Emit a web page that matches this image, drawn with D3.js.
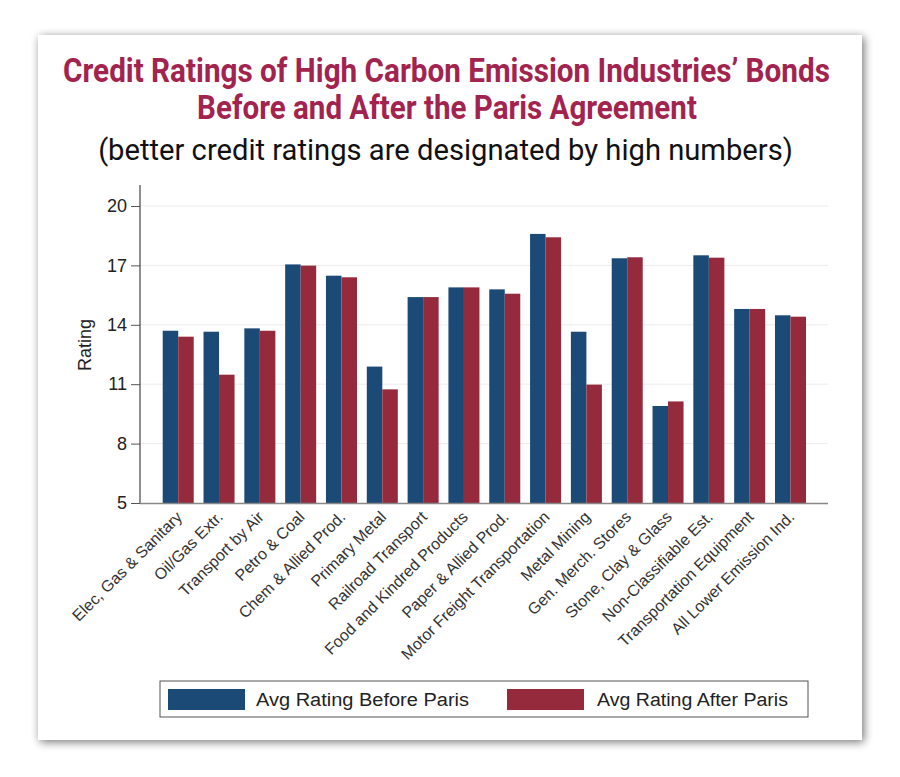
<!DOCTYPE html>
<html><head><meta charset="utf-8">
<script src="https://cdn.jsdelivr.net/npm/d3@7"></script>
<style>html,body{margin:0;padding:0;background:#fff;overflow:hidden;}</style>
</head><body><div id="chart"></div>
<script>
const categories = ["Elec, Gas & Sanitary","Oil/Gas Extr.","Transport by Air","Petro & Coal","Chem & Allied Prod.","Primary Metal","Railroad Transport","Food and Kindred Products","Paper & Allied Prod.","Motor Freight Transportation","Metal Mining","Gen. Merch. Stores","Stone, Clay & Glass","Non-Classifiable Est.","Transportation Equipment","All Lower Emission Ind."];
const beforeParis = [13.70,13.65,13.82,17.05,16.48,11.89,15.40,15.89,15.79,18.59,13.65,17.36,9.90,17.51,14.80,14.48];
const afterParis  = [13.40,11.48,13.70,16.99,16.40,10.74,15.40,15.89,15.57,18.42,10.98,17.41,10.13,17.39,14.80,14.41];
const yTicks = [5,8,11,14,17,20];
const seriesNames = ["Avg Rating Before Paris","Avg Rating After Paris"];
const seriesColors = ["#1b4a76","#952a3c"];
const titleLines = ["Credit Ratings of High Carbon Emission Industries\u2019 Bonds","Before and After the Paris Agreement"];
const subtitle = "(better credit ratings are designated by high numbers)";
const yLabel = "Rating";

const W = 900, H = 777;
const svg = d3.select("#chart").append("svg").attr("width", W).attr("height", H);
const defs = svg.append("defs");
const f = defs.append("filter").attr("id","sh").attr("x","-10%").attr("y","-10%").attr("width","120%").attr("height","120%");
f.append("feGaussianBlur").attr("in","SourceAlpha").attr("stdDeviation",5).attr("result","b");
f.append("feOffset").attr("in","b").attr("dx",2).attr("dy",2).attr("result","o");
f.append("feComponentTransfer").attr("in","o").attr("result","t").append("feFuncA").attr("type","linear").attr("slope",0.55);
const m = f.append("feMerge"); m.append("feMergeNode").attr("in","t"); m.append("feMergeNode").attr("in","SourceGraphic");

svg.append("rect").attr("x",38).attr("y",35).attr("width",824).attr("height",705).attr("fill","#fff").attr("filter","url(#sh)");

// titles: condensed by horizontal scaling to the reference width
function fitText(str, cx, cy, size, weight, color, targetW){
  const g = svg.append("g");
  const t = g.append("text").attr("x",0).attr("y",0).attr("text-anchor","middle")
    .attr("font-family","Roboto, 'Liberation Sans', sans-serif").attr("font-weight",weight)
    .attr("font-size",size).attr("fill",color).text(str);
  const w = t.node().getComputedTextLength();
  g.attr("transform",`translate(${cx},${cy}) scale(${targetW/w},1)`);
}
fitText(titleLines[0], 446.5, 82, 33, "bold", "#a3234f", 767);
fitText(titleLines[1], 447, 119, 33, "bold", "#a3234f", 500);
fitText(subtitle, 445.5, 160, 30, "normal", "#111", 695);

const y = d3.scaleLinear().domain([5,20]).range([503,206]);
const x = d3.scaleBand().domain(categories).range([162.7,806]).paddingInner(0.24).paddingOuter(0);
const x1 = d3.scaleBand().domain([0,1]).range([0,x.bandwidth()]);
const plotL = 140, plotR = 828;

// gridlines
svg.append("g").selectAll("line").data(yTicks.filter(t=>t>5)).join("line")
  .attr("x1",plotL).attr("x2",plotR).attr("y1",d=>y(d)).attr("y2",d=>y(d))
  .attr("stroke","#ececec").attr("stroke-width",1);

// bars
const data = categories.map((c,i)=>({c, v:[beforeParis[i], afterParis[i]]}));
const gB = svg.append("g");
data.forEach(d=>{
  d.v.forEach((v,k)=>{
    gB.append("rect").attr("x",x(d.c)+x1(k)).attr("width",x1.bandwidth())
      .attr("y",y(v)).attr("height",y(5)-y(v)).attr("fill",seriesColors[k]);
  });
});

// y axis
const ya = svg.append("g").attr("transform",`translate(${plotL},0)`)
  .call(d3.axisLeft(y).tickValues(yTicks).tickSize(9).tickPadding(4).tickFormat(d3.format("d")));
ya.select(".domain").remove();
ya.selectAll(".tick line").attr("stroke","#555");
ya.selectAll(".tick text").attr("font-family","'Liberation Sans', Arial, sans-serif").attr("font-size",18).attr("fill","#222");
svg.append("line").attr("x1",plotL).attr("x2",plotL).attr("y1",185).attr("y2",503.5).attr("stroke","#444").attr("stroke-width",1.2);
svg.append("line").attr("x1",plotL).attr("x2",plotR).attr("y1",503.5).attr("y2",503.5).attr("stroke","#888").attr("stroke-width",1.5);

svg.append("text").attr("transform","translate(91,345) rotate(-90)").attr("text-anchor","middle")
  .attr("font-family","'Liberation Sans', Arial, sans-serif").attr("font-size",18).attr("fill","#222").text(yLabel);

// x labels
const xa = svg.append("g").attr("transform","translate(0,503)")
  .call(d3.axisBottom(x).tickSize(0).tickPadding(0));
xa.select(".domain").remove();
xa.selectAll(".tick text").attr("font-family","'Liberation Sans', Arial, sans-serif").attr("font-size",16).attr("fill","#333")
  .attr("text-anchor","end").attr("dy","0.35em")
  .attr("transform","translate(1,11) rotate(-45)");

// legend
const lg = svg.append("g");
lg.append("rect").attr("x",160).attr("y",681).attr("width",648).attr("height",36).attr("fill","#fff").attr("stroke","#555").attr("stroke-width",1);
const legItems = [{sx:168, tx:256, len:213},{sx:507, tx:597, len:191}];
seriesNames.forEach((n,i)=>{
  lg.append("rect").attr("x",legItems[i].sx).attr("y",689).attr("width",77).attr("height",21).attr("fill",seriesColors[i]);
  lg.append("text").attr("x",legItems[i].tx).attr("y",706).attr("font-family","'Liberation Sans', Arial, sans-serif")
    .attr("font-size",18).attr("fill","#222").attr("textLength",legItems[i].len).attr("lengthAdjust","spacingAndGlyphs").text(n);
});
</script></body></html>
